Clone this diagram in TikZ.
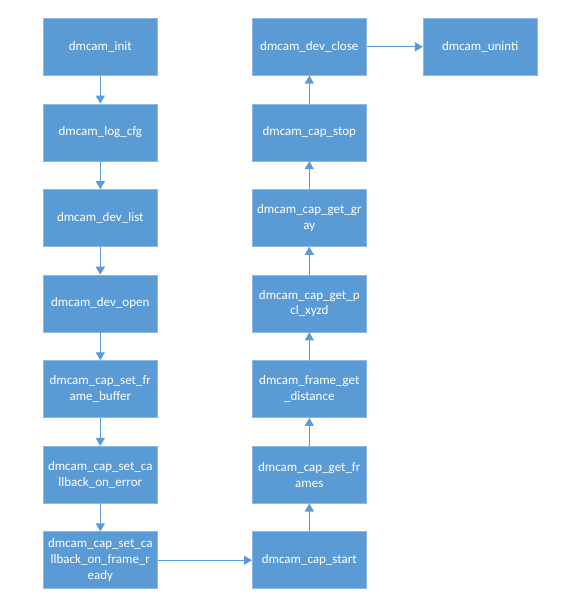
\documentclass[tikz,border=0pt]{standalone}
\usepackage{fontspec}
\setmainfont{Carlito}
\usetikzlibrary{arrows.meta}
\definecolor{boxblue}{HTML}{5B9BD5}
\definecolor{boxedge}{HTML}{8DB8E2}
\tikzset{
  fbox/.style={rectangle, fill=boxblue, draw=boxedge, line width=0.6pt,
    minimum width=114pt, minimum height=57pt, text=white, align=center,
    inner sep=2pt, font=\fontsize{13pt}{15.7pt}\selectfont},
  conn/.style={draw=boxblue, line width=1.3pt, -{Triangle[length=8pt,width=9pt]}}
}
\begin{document}
\begin{tikzpicture}[x=1pt,y=1pt]
\useasboundingbox (0,0) rectangle (574,-596);
% left column
\node[fbox] (init) at (100.3,-46.8) {dmcam\_init};
\node[fbox] (log) at (100.3,-132.4) {dmcam\_log\_cfg};
\node[fbox] (list) at (100.3,-218) {dmcam\_dev\_list};
\node[fbox] (open) at (100.3,-303.5) {dmcam\_dev\_open};
\node[fbox] (buf) at (100.3,-389.1) {dmcam\_cap\_set\_fr\\ame\_buffer};
\node[fbox] (err) at (100.3,-474.7) {dmcam\_cap\_set\_ca\\llback\_on\_error};
\node[fbox] (ready) at (100.3,-560.2) {dmcam\_cap\_set\_ca\\llback\_on\_frame\_r\\eady};
% right column
\node[fbox] (close) at (309.3,-46.8) {dmcam\_dev\_close};
\node[fbox] (stop) at (309.3,-132.4) {dmcam\_cap\_stop};
\node[fbox] (gray) at (309.3,-218) {dmcam\_cap\_get\_gr\\ay};
\node[fbox] (pcl) at (309.3,-303.5) {dmcam\_cap\_get\_p\\cl\_xyzd};
\node[fbox] (dist) at (309.3,-389.1) {dmcam\_frame\_get\\\_distance};
\node[fbox] (frames) at (309.3,-474.7) {dmcam\_cap\_get\_fr\\ames};
\node[fbox] (start) at (309.3,-560.2) {dmcam\_cap\_start};
\node[fbox] (uninit) at (480.2,-46.8) {dmcam\_uninti};
% connectors
\draw[conn] (init) -- (log);
\draw[conn] (log) -- (list);
\draw[conn] (list) -- (open);
\draw[conn] (open) -- (buf);
\draw[conn] (buf) -- (err);
\draw[conn] (err) -- (ready);
\draw[conn] (ready) -- (start);
\draw[conn] (start) -- (frames);
\draw[conn] (frames) -- (dist);
\draw[conn] (dist) -- (pcl);
\draw[conn] (pcl) -- (gray);
\draw[conn] (gray) -- (stop);
\draw[conn] (stop) -- (close);
\draw[conn] (close) -- (uninit);
\end{tikzpicture}
\end{document}
